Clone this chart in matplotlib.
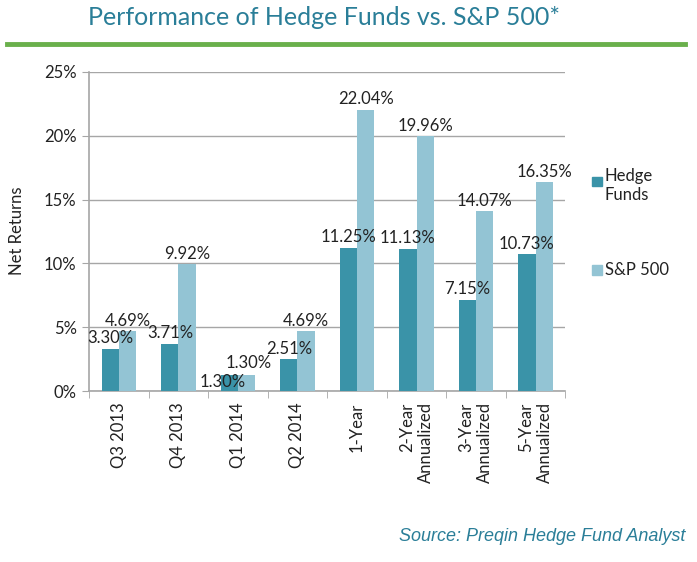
import numpy as np
import matplotlib.pyplot as plt
from matplotlib.lines import Line2D
from matplotlib.patches import Rectangle

categories = ['Q3 2013', 'Q4 2013', 'Q1 2014', 'Q2 2014', '1-Year',
              '2-Year\nAnnualized', '3-Year\nAnnualized', '5-Year\nAnnualized']
hedge_funds = [3.30, 3.71, 1.30, 2.51, 11.25, 11.13, 7.15, 10.73]
sp500 = [4.69, 9.92, 1.30, 4.69, 22.04, 19.96, 14.07, 16.35]
y_ticks = [0, 5, 10, 15, 20, 25]

plt.rcParams['font.family'] = ['Lato', 'DejaVu Sans']

dark = '#3A93A8'
light = '#93C4D4'
grey = '#A6A6A6'
teal_text = '#2A7E98'

fig = plt.figure(figsize=(6.97, 5.62), dpi=100)
ax = fig.add_axes([0.128, 0.304, 0.683, 0.568])

x = np.arange(len(categories))
width = 0.29
ax.bar(x - width / 2, hedge_funds, width, color=dark, zorder=3)
ax.bar(x + width / 2, sp500, width, color=light, zorder=3)

for i, (h, s) in enumerate(zip(hedge_funds, sp500)):
    if h == s:
        # equal values: excel pushes the labels apart
        ax.text(x[i] - width / 2 - 0.12, h - 0.6, f'{h:.2f}%', ha='center',
                va='center', fontsize=12, color='#222222', zorder=4)
        ax.text(x[i] + width / 2 + 0.03, s + 0.3, f'{s:.2f}%', ha='center',
                va='bottom', fontsize=12, color='#222222', zorder=4)
        continue
    ax.text(x[i] - width / 2, h + 0.2, f'{h:.2f}%', ha='center', va='bottom',
            fontsize=12, color='#222222', zorder=4)
    ax.text(x[i] + width / 2, s + 0.2, f'{s:.2f}%', ha='center', va='bottom',
            fontsize=12, color='#222222', zorder=4)

ax.set_xlim(-0.5, len(categories) - 0.5)
ax.set_ylim(0, 25)
ax.set_yticks(y_ticks)
ax.set_yticklabels([f'{t}%' for t in y_ticks], fontsize=12, color='#222222')
ax.yaxis.grid(True, color=grey, linewidth=1, zorder=0)
ax.tick_params(axis='y', length=5, color=grey, pad=4)

ax.set_xticks(x)
ax.set_xticklabels(categories, rotation=90, fontsize=12, color='#222222',
                   ha='center', va='top', multialignment='right')
ax.tick_params(axis='x', which='major', length=0, pad=8)
ax.set_xticks(np.arange(-0.5, len(categories)), minor=True)
ax.tick_params(axis='x', which='minor', length=5, color=grey)

for side in ['top', 'right']:
    ax.spines[side].set_visible(False)
for side in ['left', 'bottom']:
    ax.spines[side].set_color(grey)
    ax.spines[side].set_linewidth(1.2)

fig.text(0.025, 0.59, 'Net Returns', rotation=90, ha='center', va='center',
         fontsize=12, color='#222222')

# title and green rule
fig.text(0.465, 0.968, 'Performance of Hedge Funds vs. S&P 500*', ha='center',
         va='center', fontsize=18, color=teal_text)
fig.add_artist(Line2D([0.01, 0.983], [0.922, 0.922], color='#6AB04C',
                      linewidth=3.5, transform=fig.transFigure))

# legend
fig.add_artist(Rectangle((0.849, 0.669), 0.014, 0.016, color=dark,
                         transform=fig.transFigure))
fig.text(0.868, 0.670, 'Hedge\nFunds', ha='left', va='center', fontsize=12,
         color='#222222', linespacing=1.25)
fig.add_artist(Rectangle((0.849, 0.511), 0.014, 0.018, color=light,
                         transform=fig.transFigure))
fig.text(0.868, 0.520, 'S&P 500', ha='left', va='center', fontsize=12,
         color='#222222')

fig.text(0.983, 0.045, 'Source: Preqin Hedge Fund Analyst', ha='right',
         va='center', fontsize=13, style='italic', color=teal_text,
         family=['Liberation Sans', 'DejaVu Sans'])

fig.savefig('out.png', dpi=100)
